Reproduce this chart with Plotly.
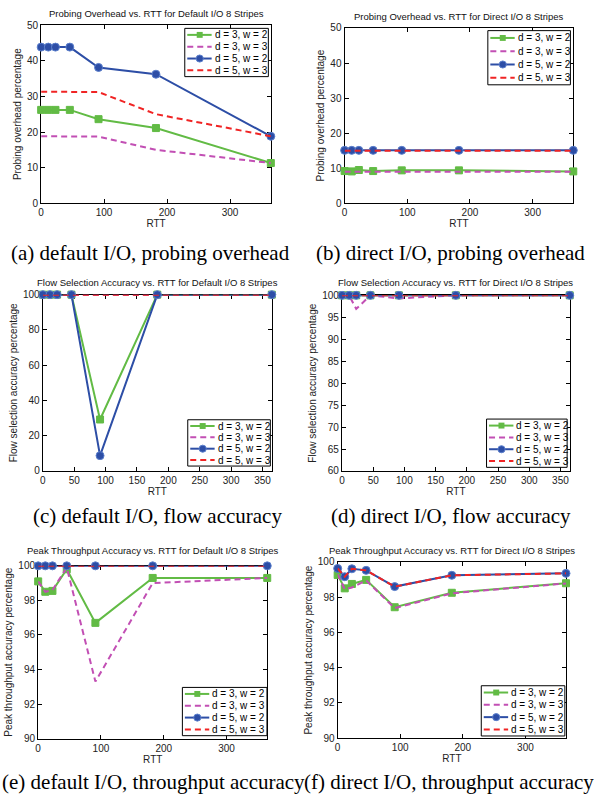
import plotly.graph_objects as go

W, H = 594, 807

# RTT sample points (ms) shared by all six experiments
RTT = [0.1, 11.4, 22.8, 45.6, 91.2, 182.4, 364.8]
SERIES_NAMES = ["d = 3, w = 2", "d = 3, w = 3", "d = 5, w = 2", "d = 5, w = 3"]

# (a) probing overhead, default I/O
overhead_default_d3w2 = [26.2, 26.2, 26.2, 26.2, 23.6, 21.1, 11.3]
overhead_default_d3w3 = [18.8, 18.8, 18.8, 18.8, 18.7, 15.0, 11.3]
overhead_default_d5w2 = [43.8, 43.8, 43.8, 43.8, 38.1, 36.2, 18.8]
overhead_default_d5w3 = [31.3, 31.3, 31.3, 31.3, 31.2, 25.0, 18.8]

# (b) probing overhead, direct I/O
overhead_direct_d3w2 = [9.2, 9.1, 9.5, 9.2, 9.4, 9.4, 9.1]
overhead_direct_d3w3 = [9.0, 9.0, 9.0, 9.0, 9.0, 9.0, 9.0]
overhead_direct_d5w2 = [15.1, 15.1, 15.1, 15.1, 15.1, 15.1, 15.1]
overhead_direct_d5w3 = [15.0, 15.0, 15.0, 15.0, 15.0, 15.0, 15.0]

# (c) flow selection accuracy, default I/O
flow_default_d3w2 = [100, 100, 100, 100, 29.2, 100, 100]
flow_default_d3w3 = [100, 100, 100, 100, 100, 100, 100]
flow_default_d5w2 = [100, 100, 100, 100, 8.7, 100, 100]
flow_default_d5w3 = [100, 100, 100, 100, 100, 100, 100]

# (d) flow selection accuracy, direct I/O
flow_direct_d3w2 = [100, 100, 100, 100, 100, 100, 100]
flow_direct_d3w3 = [100, 100, 96.9, 100, 99.3, 100, 100]
flow_direct_d5w2 = [100, 100, 100, 100, 100, 100, 100]
flow_direct_d5w3 = [100, 100, 100, 100, 100, 100, 100]

# (e) peak throughput accuracy, default I/O
thru_default_d3w2 = [99.1, 98.5, 98.55, 99.8, 96.7, 99.3, 99.3]
thru_default_d3w3 = [99.1, 98.5, 98.6, 99.9, 93.3, 99.0, 99.3]
thru_default_d5w2 = [100, 100, 100, 100, 100, 100, 100]
thru_default_d5w3 = [100, 100, 100, 100, 100, 100, 100]

# (f) peak throughput accuracy, direct I/O
thru_direct_d3w2 = [99.26, 98.5, 98.75, 98.98, 97.43, 98.25, 98.79]
thru_direct_d3w3 = [99.3, 98.45, 98.55, 98.95, 97.38, 98.22, 98.78]
thru_direct_d5w2 = [99.63, 99.16, 99.61, 99.52, 98.6, 99.24, 99.35]
thru_direct_d5w3 = [99.63, 99.16, 99.61, 99.52, 98.6, 99.24, 99.35]

GREEN, MAGENTA, BLUE, RED = "#62bb45", "#c24fb4", "#2d4ea6", "#f02424"
DASH = "6px,4px"
STYLES = [
    dict(color=GREEN, dash="solid", symbol="square", msize=7, medge=GREEN),
    dict(color=MAGENTA, dash=DASH, symbol=None),
    dict(color=BLUE, dash="solid", symbol="circle", msize=8, medge="#5b7fcc"),
    dict(color=RED, dash=DASH, symbol=None),
]

SANS = "Liberation Sans, Arial, sans-serif"
SERIF = "Liberation Serif, Times New Roman, serif"


def px(x):
    return x / W


def py(y):
    return 1 - y / H


# per-panel layout (pixel boxes: left, top, right, bottom)
panels = [
    dict(title="Probing Overhead vs. RTT for Default I/O 8 Stripes",
         ytitle="Probing overhead percentage",
         series=[overhead_default_d3w2, overhead_default_d3w3, overhead_default_d5w2, overhead_default_d5w3],
         yrange=[0, 50], ydtick=10, xdtick=100,
         box=(38.3, 19.3, 269.3, 200.3), title_y=8,
         legend=(182.7, 22.7, 84, 49),
         caption="(a) default I/O, probing overhead", cap_x=148, cap_y=250.5),
    dict(title="Probing Overhead vs. RTT for Direct I/O 8 Stripes",
         ytitle="Probing overhead percentage",
         series=[overhead_direct_d3w2, overhead_direct_d3w3, overhead_direct_d5w2, overhead_direct_d5w3],
         yrange=[0, 50], ydtick=10, xdtick=100,
         box=(343.3, 22.3, 573.3, 200.3), title_y=11,
         legend=(487.3, 25, 83, 55),
         caption="(b) direct I/O, probing overhead", cap_x=450, cap_y=250.5),
    dict(title="Flow Selection Accuracy vs. RTT for Default I/O 8 Stripes",
         ytitle="Flow selection accuracy percentage",
         series=[flow_default_d3w2, flow_default_d3w3, flow_default_d5w2, flow_default_d5w3],
         yrange=[0, 100], ydtick=20, xdtick=50,
         box=(40, 293, 270.3, 472), title_y=280.7,
         legend=(185.7, 420, 83, 47),
         caption="(c) default I/O, flow accuracy", cap_x=155, cap_y=517.5),
    dict(title="Flow Selection Accuracy vs. RTT for Direct I/O 8 Stripes",
         ytitle="Flow selection accuracy percentage",
         series=[flow_direct_d3w2, flow_direct_d3w3, flow_direct_d5w2, flow_direct_d5w3],
         yrange=[60, 100], ydtick=5, xdtick=50,
         box=(340.7, 293.7, 569.7, 472), title_y=280.7,
         legend=(486, 419.3, 81, 49),
         caption="(d) direct I/O, flow accuracy", cap_x=450, cap_y=517.5),
    dict(title="Peak Throughput Accuracy vs. RTT for Default I/O 8 Stripes",
         ytitle="Peak throughput accuracy percentage",
         series=[thru_default_d3w2, thru_default_d3w3, thru_default_d5w2, thru_default_d5w3],
         yrange=[90, 100], ydtick=2, xdtick=100,
         box=(35.3, 568.3, 265.7, 743.7), title_y=552.7,
         legend=(180.3, 691.7, 85, 49),
         caption="(e) default I/O, throughput accuracy", cap_x=151, cap_y=787.5),
    dict(title="Peak Throughput Accuracy vs. RTT for Direct I/O 8 Stripes",
         ytitle="Peak throughput accuracy percentage",
         series=[thru_direct_d3w2, thru_direct_d3w3, thru_direct_d5w2, thru_direct_d5w3],
         yrange=[90, 100], ydtick=2, xdtick=100,
         box=(336.3, 564.3, 566, 743.3), title_y=552.7,
         legend=(480.7, 690, 84, 51),
         caption="(f) direct I/O, throughput accuracy", cap_x=448, cap_y=787.5),
]

fig = go.Figure()
shapes, annotations = [], []


def add_legend(left, top, width, height):
    shapes.append(dict(type="rect", xref="paper", yref="paper",
                       x0=px(left), x1=px(left + width), y0=py(top + height), y1=py(top),
                       line=dict(color="black", width=1), fillcolor="white", layer="above"))
    for i, (name, st) in enumerate(zip(SERIES_NAMES, STYLES)):
        yc = top + height * (0.135 + 0.245 * i)
        shapes.append(dict(type="line", xref="paper", yref="paper",
                           x0=px(left + 2.5), x1=px(left + 27), y0=py(yc), y1=py(yc),
                           line=dict(color=st["color"], width=2, dash=st["dash"]), layer="above"))
        xm = left + 15
        if st["symbol"] == "square":
            r = 3
            shapes.append(dict(type="rect", xref="paper", yref="paper",
                               x0=px(xm - r), x1=px(xm + r), y0=py(yc + r), y1=py(yc - r),
                               line=dict(width=0), fillcolor=st["color"], layer="above"))
        elif st["symbol"] == "circle":
            r = 3.6
            shapes.append(dict(type="circle", xref="paper", yref="paper",
                               x0=px(xm - r), x1=px(xm + r), y0=py(yc + r), y1=py(yc - r),
                               line=dict(width=1, color=st["medge"]), fillcolor=st["color"], layer="above"))
        annotations.append(dict(text=name, xref="paper", yref="paper", x=px(left + 28), y=py(yc),
                                xanchor="left", yanchor="middle", showarrow=False,
                                font=dict(family=SANS, size=10, color="black")))


for k, p in enumerate(panels, start=1):
    xa = "x" if k == 1 else f"x{k}"
    ya = "y" if k == 1 else f"y{k}"
    for vals, st in zip(p["series"], STYLES):
        mode = "lines+markers" if st["symbol"] else "lines"
        marker = dict(symbol=st["symbol"], size=st["msize"], color=st["color"],
                      line=dict(width=1, color=st["medge"])) if st["symbol"] else None
        fig.add_trace(go.Scatter(x=RTT, y=vals, xaxis=xa, yaxis=ya, mode=mode,
                                 line=dict(color=st["color"], width=2, dash=st["dash"]),
                                 marker=marker, cliponaxis=False, showlegend=False,
                                 hoverinfo="skip"))
    l, t, r, b = p["box"]
    axis_common = dict(showline=True, linecolor="black", linewidth=1.2, mirror="ticks",
                       ticks="inside", ticklen=4, tickcolor="black", showgrid=False,
                       zeroline=False, tickfont=dict(family=SANS, size=10, color="#222"),
                       layer="below traces")
    fig.layout[f"xaxis{k if k > 1 else ''}"] = dict(
        axis_common, domain=[px(l), px(r)], range=[0, 365], dtick=p["xdtick"], tick0=0,
        anchor=ya, title=dict(text="RTT", font=dict(family=SANS, size=10, color="#222"), standoff=2))
    fig.layout[f"yaxis{k if k > 1 else ''}"] = dict(
        axis_common, domain=[py(b), py(t)], range=p["yrange"], dtick=p["ydtick"], tick0=0,
        anchor=xa, title=dict(text=p["ytitle"], font=dict(family=SANS, size=10, color="#222"), standoff=3))
    annotations.append(dict(text=p["title"], xref="paper", yref="paper", x=px((l + r) / 2), y=py(p["title_y"]),
                            xanchor="center", yanchor="middle", showarrow=False,
                            font=dict(family=SANS, size=9.5, color="#111")))
    annotations.append(dict(text=p["caption"], xref="paper", yref="paper", x=px(p["cap_x"]), y=py(p["cap_y"]),
                            xanchor="center", yanchor="middle", showarrow=False,
                            font=dict(family=SERIF, size=21, color="black")))
    add_legend(*p["legend"])

fig.update_layout(width=W, height=H, margin=dict(l=0, r=0, t=0, b=0),
                  paper_bgcolor="white", plot_bgcolor="white",
                  shapes=shapes, annotations=annotations)

fig.write_html("out.html")
